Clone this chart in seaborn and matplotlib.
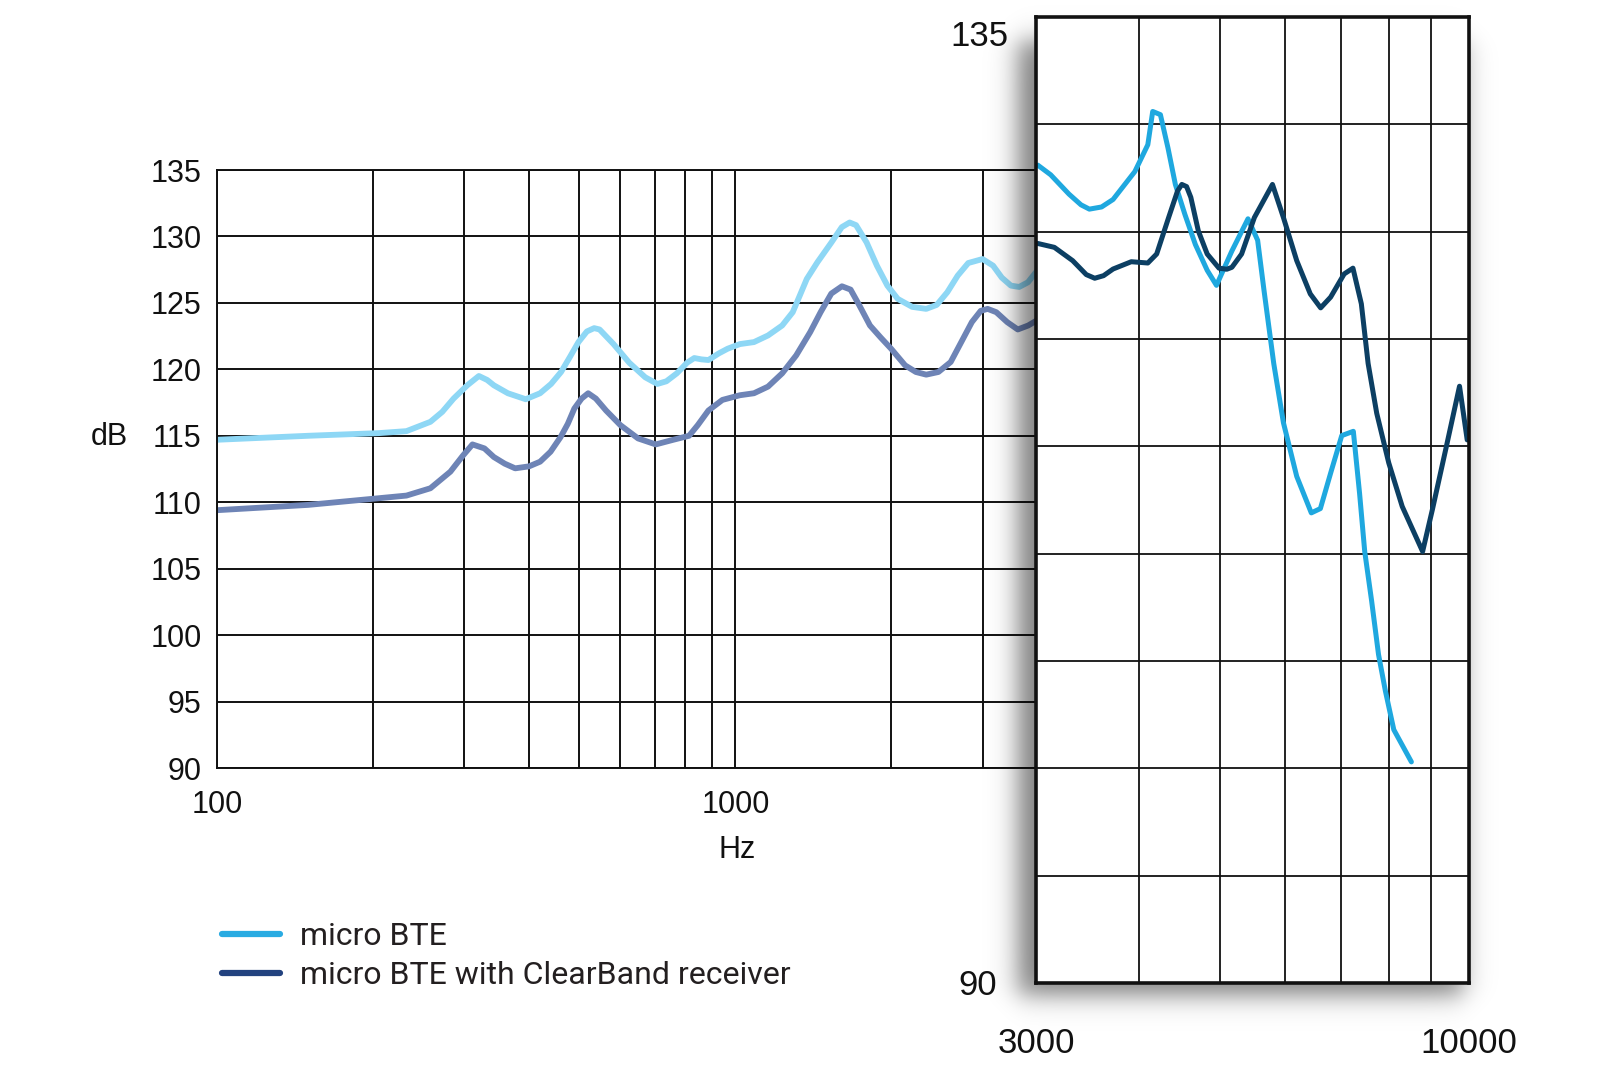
import numpy as np
import matplotlib
matplotlib.use("Agg")
import matplotlib.pyplot as plt
import seaborn as sns
from matplotlib.ticker import FixedLocator, FixedFormatter, NullFormatter
from matplotlib.lines import Line2D

# ---------------- data ----------------
left_freq_bte = [100, 150, 205, 232, 258, 272, 286, 304, 320, 332, 342, 364, 394, 420, 441, 461, 479,
                 498, 517, 534, 547, 582, 624, 670, 707, 736, 771, 807, 833, 860, 887, 929, 966,
                 1020, 1086, 1156, 1231, 1290, 1331, 1373, 1439, 1532, 1604, 1661, 1709, 1791, 1875,
                 1964, 2057, 2193, 2334, 2446, 2563, 2684, 2813, 2997, 3141, 3265, 3400, 3527, 3667,
                 3844]
left_db_bte = [114.7, 115.0, 115.2, 115.35, 116.05, 116.8, 117.8, 118.8, 119.5, 119.2, 118.8, 118.2,
               117.75, 118.2, 118.9, 119.8, 120.9, 122.05, 122.85, 123.1, 123.0, 121.9, 120.5, 119.4,
               118.9, 119.1, 119.7, 120.5, 120.85, 120.75, 120.7, 121.2, 121.55, 121.9, 122.05,
               122.55, 123.3, 124.3, 125.55, 126.8, 128.05, 129.55, 130.7, 131.05, 130.85, 129.55,
               127.8, 126.3, 125.3, 124.7, 124.55, 124.85, 125.8, 127.05, 128.0, 128.3, 127.8, 126.9,
               126.3, 126.2, 126.55, 127.55]

left_freq_cb = [100, 150, 205, 232, 258, 282, 298, 311, 328, 342, 359, 376, 400, 420, 440, 460, 475,
                489, 505, 520, 538, 563, 600, 649, 702, 759, 814, 846, 887, 944, 1020, 1086, 1156,
                1231, 1310, 1394, 1460, 1531, 1605, 1668, 1735, 1818, 1906, 1997, 2125, 2229, 2334,
                2464, 2602, 2727, 2858, 2973, 3066, 3186, 3345, 3505, 3672, 3860]
left_db_cb = [109.4, 109.8, 110.3, 110.5, 111.05, 112.3, 113.5, 114.35, 114.05, 113.4, 112.9, 112.55,
              112.7, 113.05, 113.8, 114.9, 115.9, 117.05, 117.8, 118.2, 117.8, 116.9, 115.8, 114.8,
              114.35, 114.7, 115.0, 115.8, 116.9, 117.7, 118.05, 118.2, 118.7, 119.7, 121.05, 122.8,
              124.3, 125.7, 126.25, 126.0, 124.8, 123.3, 122.4, 121.55, 120.3, 119.8, 119.6, 119.8,
              120.55, 122.05, 123.55, 124.4, 124.55, 124.3, 123.55, 123.0, 123.3, 123.8]

right_freq_bte = [3015, 3125, 3288, 3400, 3480, 3600, 3717, 3949, 4094, 4150, 4240, 4330, 4420, 4539,
                  4673, 4829, 4955, 5172, 5409, 5556, 5656, 5811, 5969, 6194, 6450, 6615, 6806, 7020,
                  7250, 7377, 7483, 7628, 7776, 7926, 8113, 8520]
right_db_bte = [128.1, 127.65, 126.75, 126.25, 126.05, 126.15, 126.5, 127.8, 129.05, 130.6, 130.45,
                128.9, 127.2, 125.8, 124.4, 123.2, 122.5, 124.1, 125.6, 124.6, 122.25, 118.85, 116.1,
                113.6, 111.9, 112.1, 113.75, 115.5, 115.7, 112.8, 110.1, 107.8, 105.3, 103.6, 101.8,
                100.3]

right_freq_cb = [3015, 3157, 3322, 3450, 3532, 3620, 3717, 3910, 4094, 4196, 4338, 4447, 4500, 4560,
                 4614, 4711, 4829, 4990, 5100, 5172, 5314, 5506, 5790, 5969, 6194, 6432, 6620, 6806,
                 7067, 7242, 7413, 7554, 7737, 8000, 8305, 8790, 9033, 9391, 9740, 9950]
right_db_cb = [124.45, 124.27, 123.65, 123.0, 122.83, 122.95, 123.26, 123.6, 123.54, 123.96, 125.66,
               126.9, 127.2, 127.1, 126.6, 125.04, 123.96, 123.3, 123.25, 123.34, 123.96, 125.66,
               127.2, 125.66, 123.65, 122.1, 121.45, 121.95, 123.03, 123.3, 121.64, 118.86, 116.54,
               114.23, 112.2, 110.1, 112.06, 115.0, 117.8, 115.3]

db_ticks = [90, 95, 100, 105, 110, 115, 120, 125, 130, 135]
left_major = [100, 1000]
left_major_labels = ["100", "1000"]
left_minor = [200, 300, 400, 500, 600, 700, 800, 900, 2000, 3000]
right_major = [3000, 10000]
right_major_labels = ["3000", "10000"]
right_minor = [4000, 5000, 6000, 7000, 8000, 9000]
legend_labels = ["micro BTE", "micro BTE with ClearBand receiver"]

# ---------------- style ----------------
sns.set_style("white")
plt.rcParams['font.family'] = ['Liberation Sans', 'DejaVu Sans']

W, H = 1600, 1067
fig = plt.figure(figsize=(W / 100, H / 100), dpi=100)
fig.patch.set_facecolor("white")


def fr(x0, y0, x1, y1):
    return [x0 / W, 1 - y1 / H, (x1 - x0) / W, (y1 - y0) / H]


GRID = "#111111"
line_kw = dict(sort=False, estimator=None, solid_joinstyle='round', solid_capstyle='round')

# ---------------- left panel ----------------
axL = fig.add_axes(fr(217, 170, 1050, 768))
axL.set_zorder(1)
sns.lineplot(x=left_freq_bte, y=left_db_bte, ax=axL, color="#8ed7f5", linewidth=4.2, **line_kw)
sns.lineplot(x=left_freq_cb, y=left_db_cb, ax=axL, color="#6e84b6", linewidth=4.2, **line_kw)
axL.set_xscale('log')
axL.set_xlim(100, 100 * 10 ** ((1050 - 217) / 518.4))
axL.set_ylim(90, 135)
axL.xaxis.set_major_locator(FixedLocator(left_major))
axL.xaxis.set_major_formatter(FixedFormatter(left_major_labels))
axL.xaxis.set_minor_locator(FixedLocator(left_minor))
axL.xaxis.set_minor_formatter(NullFormatter())
axL.yaxis.set_major_locator(FixedLocator(db_ticks))
axL.yaxis.set_major_formatter(FixedFormatter([str(v) for v in db_ticks]))
axL.grid(True, which='both', axis='x', color=GRID, linewidth=1.4)
axL.grid(True, which='major', axis='y', color=GRID, linewidth=1.4)
axL.set_axisbelow(True)
axL.tick_params(which='both', length=0)
axL.tick_params(axis='y', pad=11, labelsize=22, labelcolor="#111111")
axL.tick_params(axis='x', pad=16, labelsize=22, labelcolor="#111111")
for s in axL.spines.values():
    s.set_color(GRID)
    s.set_linewidth(1.4)
axL.spines['right'].set_visible(False)
axL.set_xlabel("")
axL.set_ylabel("")

fig.text(737 / W, 1 - 850 / H, "Hz", ha="center", va="center", fontsize=22, color="#111111")
fig.text(109 / W, 1 - 437 / H, "dB", ha="center", va="center", fontsize=22, color="#111111")

# ---------------- shadow ----------------
axS = fig.add_axes([0, 0, 1, 1])
axS.set_zorder(2)
axS.axis('off')
yy, xx = np.mgrid[0:H, 0:W] + 0.5


def soft(v, a, b, s):
    return 0.5 * (np.tanh((v - a) / s) - np.tanh((v - b) / s))


alpha = 0.5 * soft(xx, 1036 - 18, 1469 - 6, 15) * soft(yy, 17 + 24, 983 + 12, 15)
rgba = np.zeros((H, W, 4))
rgba[..., 3] = alpha
axS.imshow(rgba, extent=(0, W, H, 0), aspect='auto', interpolation='bilinear')
axS.set_xlim(0, W)
axS.set_ylim(H, 0)

# ---------------- right panel ----------------
axR = fig.add_axes(fr(1036, 17, 1469, 983))
axR.set_zorder(3)
axR.set_facecolor("white")
sns.lineplot(x=right_freq_bte, y=right_db_bte, ax=axR, color="#1fa8df", linewidth=3.6, **line_kw)
sns.lineplot(x=right_freq_cb, y=right_db_cb, ax=axR, color="#0c3f63", linewidth=3.6, **line_kw)
axR.set_xscale('log')
axR.set_xlim(3000, 10000)
axR.set_ylim(90, 135)
axR.xaxis.set_major_locator(FixedLocator(right_major))
axR.xaxis.set_major_formatter(FixedFormatter(right_major_labels))
axR.xaxis.set_minor_locator(FixedLocator(right_minor))
axR.xaxis.set_minor_formatter(NullFormatter())
axR.yaxis.set_major_locator(FixedLocator(db_ticks))
axR.yaxis.set_major_formatter(NullFormatter())
axR.grid(True, which='both', axis='x', color=GRID, linewidth=1.3)
axR.grid(True, which='major', axis='y', color=GRID, linewidth=1.3)
axR.set_axisbelow(True)
axR.tick_params(which='both', length=0)
axR.tick_params(axis='x', pad=32, labelsize=25, labelcolor="#111111")
for s in axR.spines.values():
    s.set_color(GRID)
    s.set_linewidth(2.6)
axR.set_xlabel("")
axR.set_ylabel("")
axR.annotate("135", xy=(0, 135), xycoords=('axes fraction', 'data'), xytext=(-20, -14),
             textcoords='offset points', ha='right', va='center', fontsize=25, color="#111111")
axR.annotate("90", xy=(0, 90), xycoords=('axes fraction', 'data'), xytext=(-28, -1.5),
             textcoords='offset points', ha='right', va='center', fontsize=25, color="#111111")

# ---------------- legend ----------------
handles = [Line2D([0], [0], color="#29abe2", linewidth=4.5, solid_capstyle='round'),
           Line2D([0], [0], color="#22427f", linewidth=4.5, solid_capstyle='round')]
fig.legend(handles, legend_labels, loc='upper left', bbox_to_anchor=(222 / W, 1 - 922 / H),
           frameon=False, prop={'family': ['Liberation Sans Narrow', 'Roboto', 'DejaVu Sans'], 'size': 23},
           handlelength=1.8, handletextpad=0.65, labelspacing=0.32, borderaxespad=0, borderpad=0,
           labelcolor="#231f20")

fig.savefig("out.png", dpi=100, facecolor="white")
